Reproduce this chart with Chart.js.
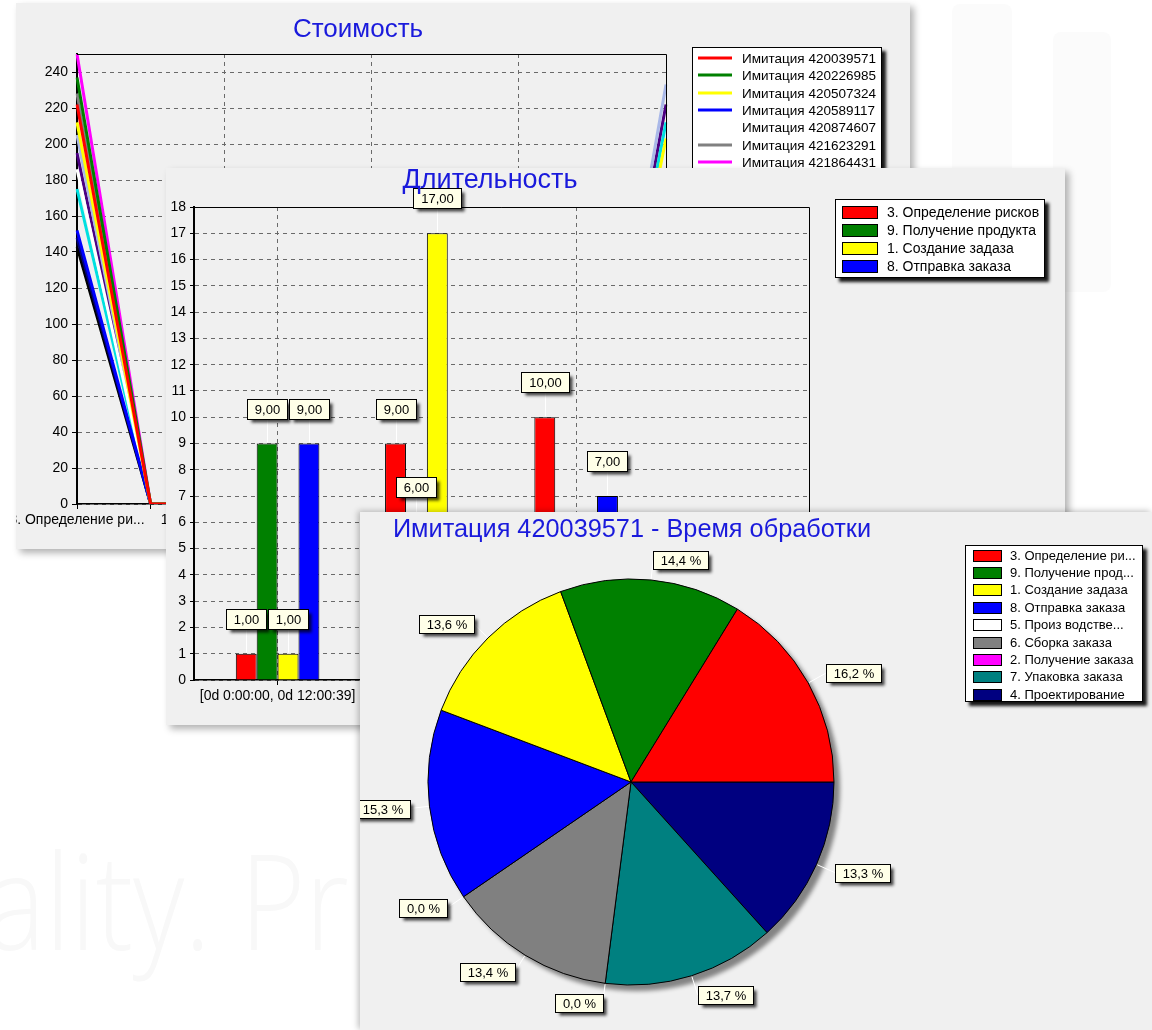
<!DOCTYPE html>
<html lang="ru">
<head>
<meta charset="utf-8">
<title>Стоимость / Длительность / Время обработки</title>
<script src="https://cdn.jsdelivr.net/npm/chart.js@4.4.1/dist/chart.umd.min.js"></script>
<style>
  html, body { margin: 0; padding: 0; background: #fff; }
  body { position: relative; width: 1152px; height: 1030px; overflow: hidden; }
  .panel { position: absolute; background: #f0f0f0; box-shadow: 4px 4px 7px rgba(0, 0, 0, 0.3); }
  .panel canvas { display: block; }
  #p1 { left: 16px; top: 3px; width: 894px; height: 546px; z-index: 1; }
  #p2 { left: 166px; top: 168px; width: 899px; height: 557px; z-index: 2; }
  #p3 { left: 360px; top: 512px; width: 792px; height: 518px; z-index: 3; box-shadow: -2px -1px 6px rgba(0, 0, 0, 0.25); }
  .watermark { position: absolute; left: -14px; top: 832px; font: 300 133px "Open Sans", sans-serif; line-height: 1;
               color: #f8f8f8; white-space: nowrap; transform: scaleX(0.84); transform-origin: left top; }
  .ghost { position: absolute; background: #fbfbfb; border-radius: 8px; }
</style>
</head>
<body>
<div class="ghost" style="left:952px;top:4px;width:60px;height:270px"></div>
<div class="ghost" style="left:1053px;top:32px;width:58px;height:260px"></div>
<div class="watermark">ality. Pr</div>

<div class="panel" id="p1"><canvas id="costChart" width="894" height="546"></canvas></div>
<div class="panel" id="p2"><canvas id="durationChart" width="899" height="557"></canvas></div>
<div class="panel" id="p3"><canvas id="pieChart" width="792" height="518"></canvas></div>

<script>
const FONT = '"Liberation Sans", Arial, Helvetica, sans-serif';
const TITLE_COLOR = '#1a1adc';
const GRID_COLOR = '#6a6a6a';

// --- Стоимость: one line per simulation run over the process stages ---
const stageLabels = ['3. Определение ри...', '9. Получение прод...', '1. Создание задаза', '8. Отправка заказа',
                     '5. Произ водстве...', '6. Сборка заказа', '2. Получение заказа', '7. Упаковка заказа', '4. Проектирование'];
const simNames = ['Имитация 420039571', 'Имитация 420226985', 'Имитация 420507324', 'Имитация 420589117',
                  'Имитация 420874607', 'Имитация 421623291', 'Имитация 421864431', 'Имитация 422045718',
                  'Имитация 422317406', 'Имитация 422598830', 'Имитация 423011264', 'Имитация 423187952'];
const simColors = ['#ff0000', '#008000', '#ffff00', '#0000ff', '#ffffff', '#808080',
                   '#ff00ff', '#00e0e0', '#000080', '#a9b8e8', '#000000', '#4b0082'];
const simCost = [
  [222, 0, 0, 0, 0, 0, 0, 0, 176],
  [237, 0, 0, 0, 0, 0, 0, 0, 168],
  [212, 0, 0, 0, 0, 0, 0, 0, 203],
  [152, 0, 0, 0, 0, 0, 0, 0, 160],
  [186, 0, 0, 0, 0, 0, 0, 0, 150],
  [228, 0, 0, 0, 0, 0, 0, 0, 172],
  [250, 0, 0, 0, 0, 0, 0, 0, 182],
  [175, 0, 0, 0, 0, 0, 0, 0, 212],
  [148, 0, 0, 0, 0, 0, 0, 0, 140],
  [205, 0, 0, 0, 0, 0, 0, 0, 233],
  [143, 0, 0, 0, 0, 0, 0, 0, 130],
  [195, 0, 0, 0, 0, 0, 0, 0, 222]
];

// --- Длительность: bars per time interval ---
const periodLabels = ['[0d 0:00:00, 0d 12:00:39]', '[0d 12:00:39, 1d 0:01:18]',
                      '[1d 0:01:18, 1d 12:01:57]', '[1d 12:01:57, 2d 0:02:36]'];
const durationNames = ['3. Определение рисков', '9. Получение продукта', '1. Создание задаза', '8. Отправка заказа'];
const durationColors = ['#ff0000', '#008000', '#ffff00', '#0000ff'];
const durationValues = [
  [1, 9, 10, 3],
  [9, 6, 4, 2],
  [1, 17, 2, 4],
  [9, 3, 7, 1]
];

// --- Имитация 420039571 - Время обработки (pie, legend order) ---
const pieColors = ['#ff0000', '#008000', '#ffff00', '#0000ff', '#ffffff', '#808080', '#ff00ff', '#008080', '#000080'];
const pieShares = [16.2, 14.4, 13.6, 15.3, 0.0, 13.4, 0.0, 13.7, 13.3];

Chart.defaults.font.family = FONT;
Chart.defaults.color = '#000';

function fmt(v, d) {
    return v.toFixed(d).replace('.', ',');
}

// cream value box with a hard drop shadow
function callout(ctx, text, x, y, h, align) {
    ctx.save();
    ctx.font = '13px ' + FONT;
    const w = Math.round(ctx.measureText(text).width + 15);
    let left = align === 'left' ? x : align === 'right' ? x - w : x - w / 2;
    left = Math.round(left) + 0.5;
    const top = Math.round(y - h / 2) + 0.5;
    ctx.shadowColor = 'rgba(0, 0, 0, 0.75)';
    ctx.shadowBlur = 3;
    ctx.shadowOffsetX = 3;
    ctx.shadowOffsetY = 3;
    ctx.fillStyle = '#ffffe8';
    ctx.fillRect(left, top, w, h);
    ctx.shadowColor = 'rgba(0, 0, 0, 0)';
    ctx.strokeStyle = '#000';
    ctx.lineWidth = 1;
    ctx.strokeRect(left, top, w, h);
    ctx.fillStyle = '#000';
    ctx.textAlign = 'center';
    ctx.textBaseline = 'middle';
    ctx.fillText(text, left + w / 2, top + h / 2 + 1);
    ctx.restore();
}

function panelTitle(text, x, y, size) {
    return {
        id: 'panelTitle',
        afterDraw(chart) {
            const ctx = chart.ctx;
            ctx.save();
            ctx.font = size + 'px ' + FONT;
            ctx.fillStyle = TITLE_COLOR;
            ctx.textAlign = 'center';
            ctx.textBaseline = 'middle';
            ctx.fillText(text, x, y);
            ctx.restore();
        }
    };
}

// legend in a white box with black shadow
function boxLegend(cfg) {
    return {
        id: 'boxLegend',
        afterDraw(chart) {
            const ctx = chart.ctx;
            ctx.save();
            ctx.shadowColor = 'rgba(0, 0, 0, 0.9)';
            ctx.shadowBlur = 3;
            ctx.shadowOffsetX = 4;
            ctx.shadowOffsetY = 4;
            ctx.fillStyle = '#fff';
            ctx.fillRect(cfg.x, cfg.y, cfg.w, cfg.h);
            ctx.shadowColor = 'rgba(0, 0, 0, 0)';
            ctx.strokeStyle = '#000';
            ctx.lineWidth = 1;
            ctx.strokeRect(cfg.x + 0.5, cfg.y + 0.5, cfg.w - 1, cfg.h - 1);
            ctx.font = cfg.font + 'px ' + FONT;
            ctx.textAlign = 'left';
            ctx.textBaseline = 'middle';
            cfg.names.forEach((name, i) => {
                const cy = cfg.first + i * cfg.rowH;
                if (cfg.kind === 'line') {
                    ctx.strokeStyle = cfg.colors[i];
                    ctx.lineWidth = 3;
                    ctx.beginPath();
                    ctx.moveTo(cfg.swatchX, Math.round(cy));
                    ctx.lineTo(cfg.swatchX + cfg.swatchW, Math.round(cy));
                    ctx.stroke();
                } else {
                    const sy = Math.round(cy - cfg.swatchH / 2) + 0.5;
                    ctx.fillStyle = cfg.colors[i];
                    ctx.fillRect(cfg.swatchX + 0.5, sy, cfg.swatchW, cfg.swatchH);
                    ctx.strokeStyle = '#000';
                    ctx.lineWidth = 1;
                    ctx.strokeRect(cfg.swatchX + 0.5, sy, cfg.swatchW, cfg.swatchH);
                }
                ctx.fillStyle = '#000';
                ctx.fillText(name, cfg.textX, cy + 1);
            });
            ctx.restore();
        }
    };
}

const plotFrame = {
    id: 'plotFrame',
    afterDatasetsDraw(chart) {
        const {left, top, right, bottom} = chart.chartArea;
        const ctx = chart.ctx;
        ctx.save();
        ctx.strokeStyle = '#000';
        ctx.lineWidth = 1;
        ctx.beginPath();
        ctx.moveTo(left, Math.round(top) + 0.5);
        ctx.lineTo(Math.round(right) + 0.5, Math.round(top) + 0.5);
        ctx.lineTo(Math.round(right) + 0.5, bottom);
        ctx.stroke();
        ctx.restore();
    }
};

const barValueLabels = {
    id: 'barValueLabels',
    afterDatasetsDraw(chart) {
        const ctx = chart.ctx;
        chart.data.datasets.forEach((ds, i) => {
            chart.getDatasetMeta(i).data.forEach((bar, j) => {
                const v = ds.data[j].y;
                if (!v) return;
                const cy = bar.y - 35;
                const lx = Math.round(bar.x) + 0.5;
                ctx.save();
                ctx.strokeStyle = '#fff';
                ctx.lineWidth = 1;
                ctx.beginPath();
                ctx.moveTo(lx, cy + 10);
                ctx.lineTo(lx, bar.y - 1);
                ctx.stroke();
                ctx.restore();
                callout(ctx, fmt(v, 2), bar.x, cy, 20, 'center');
            });
        });
    }
};

const pieCallouts = {
    id: 'pieCallouts',
    beforeDatasetsDraw(chart) {
        const arc = chart.getDatasetMeta(0).data[0];
        const {x, y, outerRadius} = arc.getProps(['x', 'y', 'outerRadius'], true);
        const ctx = chart.ctx;
        ctx.save();
        ctx.filter = 'blur(2px)';
        ctx.fillStyle = 'rgba(0, 0, 0, 0.45)';
        ctx.beginPath();
        ctx.arc(x + 6, y + 6, outerRadius, 0, Math.PI * 2);
        ctx.fill();
        ctx.restore();
    },
    afterDatasetsDraw(chart) {
        const ctx = chart.ctx;
        const ds = chart.data.datasets[0];
        chart.getDatasetMeta(0).data.forEach((arc, i) => {
            const {x, y, startAngle, endAngle, outerRadius} =
                arc.getProps(['x', 'y', 'startAngle', 'endAngle', 'outerRadius'], true);
            const mid = (startAngle + endAngle) / 2;
            const c = Math.cos(mid), s = Math.sin(mid);
            const ax = x + c * (outerRadius + 20);
            const ay = y + s * (outerRadius + 20);
            ctx.save();
            ctx.strokeStyle = '#fff';
            ctx.lineWidth = 1;
            ctx.beginPath();
            ctx.moveTo(x + c * (outerRadius + 1), y + s * (outerRadius + 1));
            ctx.lineTo(ax, ay);
            ctx.stroke();
            ctx.restore();
            callout(ctx, fmt(ds.data[i], 1) + ' %', ax, ay, 18, c >= 0 ? 'left' : 'right');
        });
    }
};

const tickFont = {size: 14, family: FONT};

// 1. Стоимость
new Chart(document.getElementById('costChart'), {
    type: 'line',
    data: {
        labels: stageLabels,
        datasets: simNames.map((name, i) => ({
            label: name,
            data: simCost[i],
            borderColor: simColors[i],
            backgroundColor: simColors[i],
            borderWidth: 3,
            pointRadius: 0,
            tension: 0
        }))
    },
    options: {
        responsive: false,
        animation: false,
        layout: {padding: {left: 8, right: 244, top: 51, bottom: 15}},
        plugins: {legend: {display: false}, tooltip: {enabled: false}},
        scales: {
            x: {
                grid: {
                    color: ctx => (ctx.index % 2 === 0 && ctx.index > 0 && ctx.index < 8) ? GRID_COLOR : 'rgba(0,0,0,0)',
                    tickColor: '#000',
                    tickLength: 5
                },
                border: {color: '#000', width: 1.5, dash: [4, 4]},
                ticks: {
                    autoSkip: false,
                    maxRotation: 0,
                    padding: 3,
                    font: tickFont,
                    callback: (v, i) => i % 2 === 0 ? stageLabels[i] : ''
                },
                afterFit: s => { s.height = 30; s.paddingLeft = 0; s.paddingRight = 0; }
            },
            y: {
                min: 0,
                max: 250,
                grid: {color: GRID_COLOR, tickColor: '#000', tickLength: 5},
                border: {color: '#000', width: 2, dash: [4, 4]},
                ticks: {stepSize: 20, includeBounds: false, padding: 4, font: tickFont},
                afterFit: s => { s.width = 53; }
            }
        }
    },
    plugins: [
        plotFrame,
        panelTitle('Стоимость', 342, 27, 26),
        boxLegend({x: 676, y: 44, w: 190, h: 214, first: 55, rowH: 17.4, kind: 'line',
                   swatchX: 682, swatchW: 34, textX: 726, font: 13.5, names: simNames, colors: simColors})
    ]
});

// 2. Длительность  (interval index on a linear axis, so the group spacing matches the original)
new Chart(document.getElementById('durationChart'), {
    type: 'bar',
    data: {
        datasets: durationNames.map((name, i) => ({
            label: name,
            data: durationValues[i].map((v, j) => ({x: j, y: v})),
            backgroundColor: durationColors[i],
            borderColor: '#000',
            borderWidth: 1,
            categoryPercentage: 0.56,
            barPercentage: 1.0
        }))
    },
    options: {
        responsive: false,
        animation: false,
        layout: {padding: {left: 0, right: 256, top: 39, bottom: 15}},
        plugins: {legend: {display: false}, tooltip: {enabled: false}},
        scales: {
            x: {
                type: 'linear',
                offset: false,
                min: -0.56,
                max: 3.56,
                grid: {
                    offset: false,
                    color: ctx => (ctx.tick && (ctx.tick.value === 0 || ctx.tick.value === 2)) ? GRID_COLOR : 'rgba(0,0,0,0)',
                    tickColor: '#000',
                    tickLength: 5
                },
                border: {color: '#000', width: 1.5, dash: [4, 4]},
                ticks: {
                    stepSize: 1,
                    includeBounds: false,
                    autoSkip: false,
                    maxRotation: 0,
                    padding: 3,
                    font: tickFont,
                    callback: v => (v % 2 === 0 && periodLabels[v]) ? periodLabels[v] : ''
                },
                afterFit: s => { s.height = 30; s.paddingLeft = 0; s.paddingRight = 0; }
            },
            y: {
                min: 0,
                max: 18,
                grid: {color: GRID_COLOR, tickColor: '#000', tickLength: 4},
                border: {color: '#000', width: 2, dash: [4, 4]},
                ticks: {stepSize: 1, includeBounds: false, padding: 4, font: tickFont},
                afterFit: s => { s.width = 28; }
            }
        }
    },
    plugins: [
        plotFrame,
        barValueLabels,
        panelTitle('Длительность', 324, 13, 27),
        boxLegend({x: 669, y: 31, w: 210, h: 79, first: 44, rowH: 18, kind: 'box',
                   swatchX: 676, swatchW: 35, swatchH: 12, textX: 721, font: 14,
                   names: durationNames, colors: durationColors})
    ]
});

// 3. Имитация 420039571 - Время обработки
// the slices run counter-clockwise from 3 o'clock, Chart.js draws clockwise -> reverse
const pieOrder = stageLabels.map((_, i) => stageLabels.length - 1 - i);
new Chart(document.getElementById('pieChart'), {
    type: 'pie',
    data: {
        labels: pieOrder.map(i => stageLabels[i]),
        datasets: [{
            data: pieOrder.map(i => pieShares[i]),
            backgroundColor: pieOrder.map(i => pieColors[i]),
            borderColor: '#000',
            borderWidth: 1,
            radius: 203
        }]
    },
    options: {
        responsive: false,
        animation: false,
        rotation: 90,
        layout: {padding: {left: 68, right: 318, top: 67, bottom: 45}},
        plugins: {legend: {display: false}, tooltip: {enabled: false}}
    },
    plugins: [
        pieCallouts,
        panelTitle('Имитация 420039571 - Время обработки', 272, 18, 25.3),
        boxLegend({x: 605, y: 33, w: 178, h: 157, first: 43, rowH: 17.4, kind: 'box',
                   swatchX: 613, swatchW: 28, swatchH: 11, textX: 650, font: 13,
                   names: stageLabels, colors: pieColors})
    ]
});
</script>
</body>
</html>
